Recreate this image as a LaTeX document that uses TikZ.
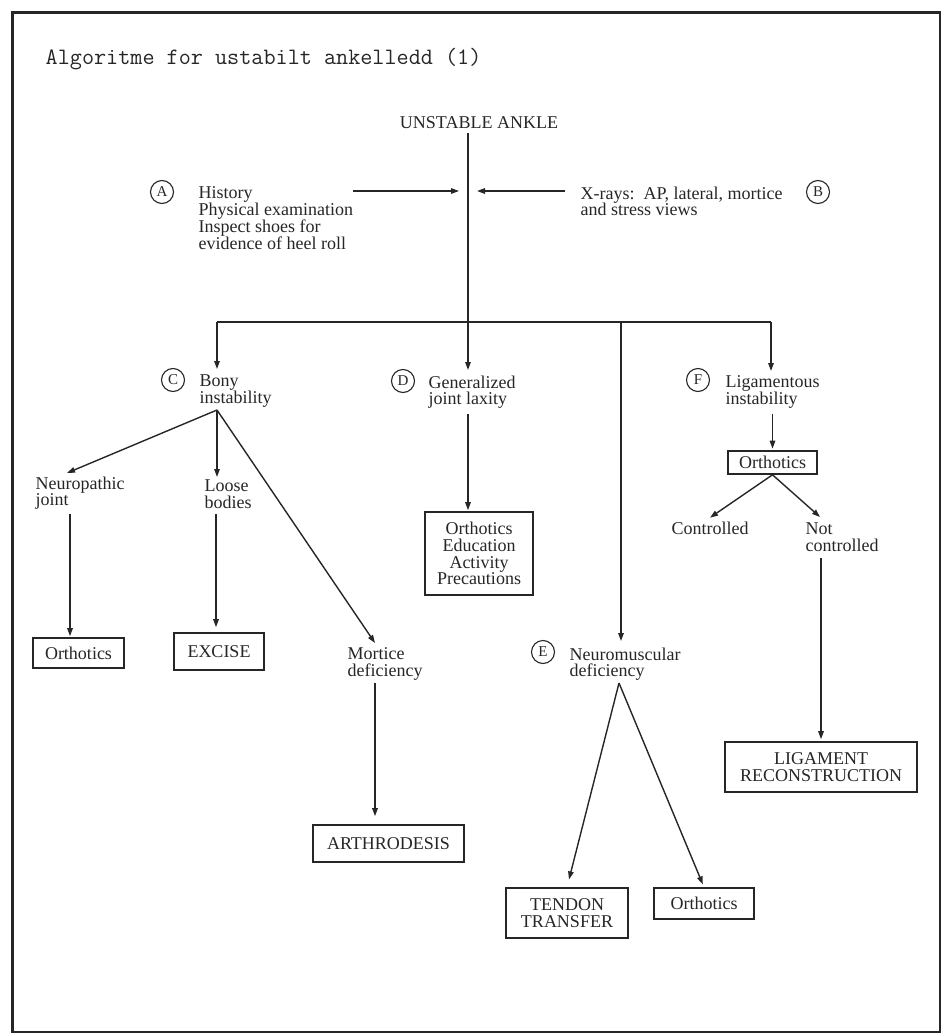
\documentclass[tikz,border=0pt]{standalone}
\usepackage{fontspec}
\setmainfont{Liberation Serif}
\usetikzlibrary{arrows.meta}

\begin{document}
\begin{tikzpicture}[
  x=1pt,y=-1pt,
  color=black!85,
  font=\fontsize{18}{16.8}\selectfont,
  line width=1.4pt,
  lbl/.style={inner sep=0pt,align=left,anchor=north west},
  tag/.style={draw,circle,minimum size=23pt,inner sep=0pt,line width=1.1pt,font=\fontsize{15}{15}\selectfont},
  box/.style={draw,line width=1.6pt,align=center,inner xsep=10pt,inner ysep=4pt},
  >={Triangle[length=8pt,width=5.5pt]}]
\useasboundingbox (0,0) rectangle (949,1035);
\draw[line width=2.2pt] (12.5,12.5) rectangle (940,1032);
\node[anchor=west,inner sep=0pt,font=\ttfamily\fontsize{23.5}{24}\selectfont] (title) at (45,59) {Algoritme for ustabilt ankelledd (1)};
\node (ua) at (479,123) {UNSTABLE ANKLE};
\node[tag] (ta) at (162,192) {A};
\node[lbl] (alab) at (198,186) {History\\Physical examination\\Inspect shoes for\\evidence of heel roll};
\node[tag] (tb) at (818,192) {B};
\node[lbl] (blab) at (580,186) {X-rays:\ \ AP, lateral, mortice\\and stress views};
\node[tag] (tc) at (173,380) {C};
\node[lbl] (clab) at (199,374) {Bony\\instability};
\node[tag] (td) at (403,381) {D};
\node[lbl] (dlab) at (428,375) {Generalized\\joint laxity};
\node[tag] (te) at (543,652) {E};
\node[lbl] (elab) at (569,647) {Neuromuscular\\deficiency};
\node[tag] (tf) at (698,380) {F};
\node[lbl] (flab) at (725,375) {Ligamentous\\instability};
\node[lbl] (nlab) at (35,476) {Neuropathic\\joint};
\node[lbl] (llab) at (204,479) {Loose\\bodies};
\node[lbl] (mlab) at (347,647) {Mortice\\deficiency};
\node (ctl) at (710,528) {Controlled};
\node[lbl] (nctl) at (805,522) {Not\\controlled};
\node[box,minimum width=89pt,minimum height=23pt] (fbox) at (772.5,462.5) {Orthotics};
\node[box,minimum width=108pt,minimum height=83pt] (dbox) at (479,553.5) {Orthotics\\Education\\Activity\\Precautions};
\node[box,minimum width=91pt,minimum height=30pt] (nbox) at (78.5,653) {Orthotics};
\node[box,minimum width=90pt,minimum height=37pt] (xbox) at (219,651.5) {EXCISE};
\node[box,minimum width=151pt,minimum height=37pt] (abox) at (388.5,843.5) {ARTHRODESIS};
\node[box,minimum width=192pt,minimum height=50pt] (lbox) at (821,767) {LIGAMENT\\RECONSTRUCTION};
\node[box,minimum width=122pt,minimum height=50pt] (tbox) at (567,913) {TENDON\\TRANSFER};
\node[box,minimum width=100pt,minimum height=31pt] (ebox) at (704,903.5) {Orthotics};
\coordinate (spine) at (468,322);
\coordinate (hl) at (217,322);
\coordinate (hr) at (771,322);
\coordinate (he) at (621,322);
\coordinate (ain) at (353,191);
\coordinate (bin) at (565,191);
\coordinate (cfork) at (217,410);
\coordinate (efork) at (619,683);
\coordinate (nl) at ([xshift=35pt]nlab.south west);
\coordinate (ll) at ([xshift=12pt]llab.south west);
\coordinate (ml) at ([xshift=28pt]mlab.south west);
\draw[->,shorten >=5pt] (ua.south -| spine) -- (spine |- dlab.north);
\draw[->,shorten >=9pt] (ain) -- (ain -| spine);
\draw[->,shorten >=9pt] (bin) -- (bin -| spine);
\draw (hl) -- (hr);
\draw[->,shorten >=5pt] (hl) -- (hl |- clab.north);
\draw[->,shorten >=4pt] (hr) -- (hr |- flab.north);
\draw[->,shorten >=6pt] (he) -- (he |- elab.north);
\draw[->,shorten <=5pt,shorten >=1.5pt] (flab.south -| fbox) -- (fbox.north);
\draw[->] (fbox.south) -- (ctl.north);
\draw[->] (fbox.south) -- ([xshift=15pt,yshift=5pt]nctl.north west);
\draw[->,shorten <=6pt,shorten >=2pt] (nctl.south -| lbox) -- (lbox.north);
\draw[->,shorten <=4pt,shorten >=1pt] (dlab.south -| spine) -- (spine |- dbox.north);
\draw[->] (cfork) -- ([xshift=32pt,yshift=3pt]nlab.north west);
\draw[->,shorten >=2pt] (cfork) -- (cfork |- llab.north);
\draw[->] (cfork) -- ([xshift=28pt,yshift=4pt]mlab.north west);
\draw[->,shorten <=3pt,shorten >=1pt] (nl) -- (nl |- nbox.north);
\draw[->,shorten <=5pt,shorten >=5pt] (ll) -- (ll |- xbox.north);
\draw[->,shorten <=2pt,shorten >=8pt] (ml) -- (ml |- abox.north);
\draw[->,shorten >=8pt] (efork) -- (tbox.north);
\draw[->,shorten >=3pt] (efork) -- (ebox.north);
\end{tikzpicture}
\end{document}
